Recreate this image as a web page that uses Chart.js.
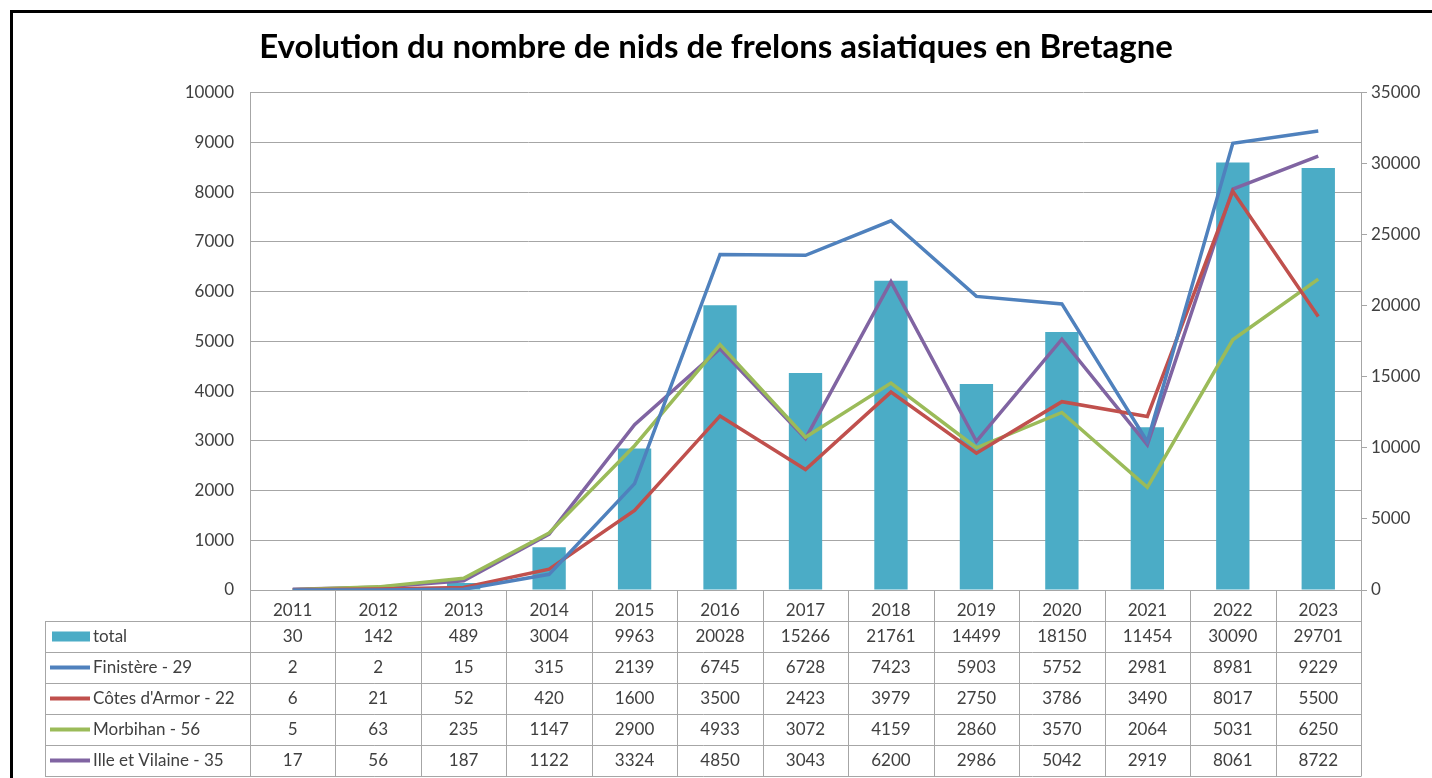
<!DOCTYPE html>
<html>
<head>
<meta charset="utf-8">
<script src="https://cdn.jsdelivr.net/npm/chart.js@4.4.0/dist/chart.umd.min.js"></script>
<style>
  html, body { margin: 0; padding: 0; background: #fff; }
  #wrap { position: relative; width: 1432px; height: 778px; }
  #frame { position: absolute; left: 10px; top: 10px; right: 0; bottom: 0;
           border-top: 3px solid #000; border-left: 3px solid #000; pointer-events: none; }
</style>
</head>
<body>
<div id="wrap">
  <canvas id="myChart" width="1432" height="778"></canvas>
  <div id="frame"></div>
</div>
<script>
var years = ["2011", "2012", "2013", "2014", "2015", "2016", "2017", "2018", "2019", "2020", "2021", "2022", "2023"];
var total = [30, 142, 489, 3004, 9963, 20028, 15266, 21761, 14499, 18150, 11454, 30090, 29701];
var finistere = [2, 2, 15, 315, 2139, 6745, 6728, 7423, 5903, 5752, 2981, 8981, 9229];
var cotesArmor = [6, 21, 52, 420, 1600, 3500, 2423, 3979, 2750, 3786, 3490, 8017, 5500];
var morbihan = [5, 63, 235, 1147, 2900, 4933, 3072, 4159, 2860, 3570, 2064, 5031, 6250];
var illeVilaine = [17, 56, 187, 1122, 3324, 4850, 3043, 6200, 2986, 5042, 2919, 8061, 8722];

var textColor = "#404040";
var gridColor = "#a6a6a6";
var fontFamily = "Lato, 'Open Sans', sans-serif";

// data table drawn under the x axis, columns follow the x scale
const tablePlugin = {
  id: "dataTable",
  afterDraw(chart) {
    const ctx = chart.ctx;
    const xs = chart.scales.x;
    const area = chart.chartArea;
    const rowH = 31;
    const left = 45;
    const colW = xs.getPixelForValue(1) - xs.getPixelForValue(0);
    const top = area.bottom;
    const nRows = chart.data.datasets.length;
    const bottom = top + rowH * (nRows + 1);

    ctx.save();
    ctx.strokeStyle = gridColor;
    ctx.lineWidth = 1;
    ctx.beginPath();
    // vertical column lines
    for (let i = 0; i <= years.length; i++) {
      const x = Math.round(xs.getPixelForValue(i) - colW / 2) + 0.5;
      ctx.moveTo(x, top);
      ctx.lineTo(x, bottom);
    }
    ctx.moveTo(left + 0.5, top + rowH);
    ctx.lineTo(left + 0.5, bottom);
    // horizontal row lines
    for (let r = 1; r <= nRows + 1; r++) {
      const y = Math.round(top + r * rowH) + 0.5;
      ctx.moveTo(left, y);
      ctx.lineTo(area.right + 0.5, y);
    }
    ctx.stroke();

    ctx.font = "17px " + fontFamily;
    ctx.textBaseline = "middle";
    chart.data.datasets.forEach((ds, r) => {
      const yMid = top + (r + 1) * rowH + rowH / 2;
      // legend key
      if (ds.type === "bar") {
        ctx.fillStyle = ds.backgroundColor;
        ctx.fillRect(52, yMid - 5, 38, 10);
      } else {
        ctx.strokeStyle = ds.borderColor;
        ctx.lineWidth = 4;
        ctx.beginPath();
        ctx.moveTo(50, yMid);
        ctx.lineTo(90, yMid);
        ctx.stroke();
      }
      ctx.fillStyle = textColor;
      ctx.textAlign = "left";
      ctx.fillText(ds.label, 93, yMid);
      ctx.textAlign = "center";
      ds.data.forEach((v, i) => {
        ctx.fillText(String(v), xs.getPixelForValue(i), yMid);
      });
    });
    ctx.restore();
  }
};

function plain(value) {
  return String(value);
}

const ctx = document.getElementById("myChart").getContext("2d");
new Chart(ctx, {
  data: {
    labels: years,
    datasets: [
      { type: "bar", label: "total", data: total, yAxisID: "y1", backgroundColor: "#4bacc6",
        categoryPercentage: 1, barPercentage: 0.39, order: 1 },
      { type: "line", label: "Finistère - 29", data: finistere, yAxisID: "y", borderColor: "#4f81bd",
        backgroundColor: "#4f81bd", borderWidth: 3.5, pointRadius: 0, tension: 0, order: 0 },
      { type: "line", label: "Côtes d'Armor - 22", data: cotesArmor, yAxisID: "y", borderColor: "#c0504d",
        backgroundColor: "#c0504d", borderWidth: 3.5, pointRadius: 0, tension: 0, order: 0 },
      { type: "line", label: "Morbihan - 56", data: morbihan, yAxisID: "y", borderColor: "#9bbb59",
        backgroundColor: "#9bbb59", borderWidth: 3.5, pointRadius: 0, tension: 0, order: 0 },
      { type: "line", label: "Ille et Vilaine - 35", data: illeVilaine, yAxisID: "y", borderColor: "#8064a2",
        backgroundColor: "#8064a2", borderWidth: 3.5, pointRadius: 0, tension: 0, order: 0 }
    ]
  },
  options: {
    responsive: false,
    animation: false,
    layout: { padding: 0 },
    plugins: {
      legend: { display: false },
      tooltip: { enabled: false },
      title: {
        display: true,
        text: "Evolution du nombre de nids de frelons asiatiques en Bretagne",
        color: "#000",
        font: { family: fontFamily, size: 33, weight: "bold" },
        padding: { top: 28, bottom: 25 }
      }
    },
    scales: {
      x: {
        grid: { display: false },
        border: { display: true, color: gridColor },
        ticks: { color: textColor, font: { family: fontFamily, size: 17 }, padding: 2, maxRotation: 0 },
        afterFit(scale) { scale.height = 188; }
      },
      y: {
        position: "left",
        min: 0,
        max: 10000,
        ticks: { stepSize: 1000, color: textColor, font: { family: fontFamily, size: 17 }, padding: 16, callback: plain },
        grid: { color: gridColor, drawTicks: false },
        border: { color: gridColor },
        afterFit(scale) { scale.width = 250; }
      },
      y1: {
        position: "right",
        min: 0,
        max: 35000,
        ticks: { stepSize: 5000, color: textColor, font: { family: fontFamily, size: 17 }, padding: 4, callback: plain },
        grid: { drawOnChartArea: false, color: gridColor, tickLength: 6 },
        border: { color: gridColor },
        afterFit(scale) { scale.width = 71; }
      }
    }
  },
  plugins: [tablePlugin]
});
</script>
</body>
</html>
